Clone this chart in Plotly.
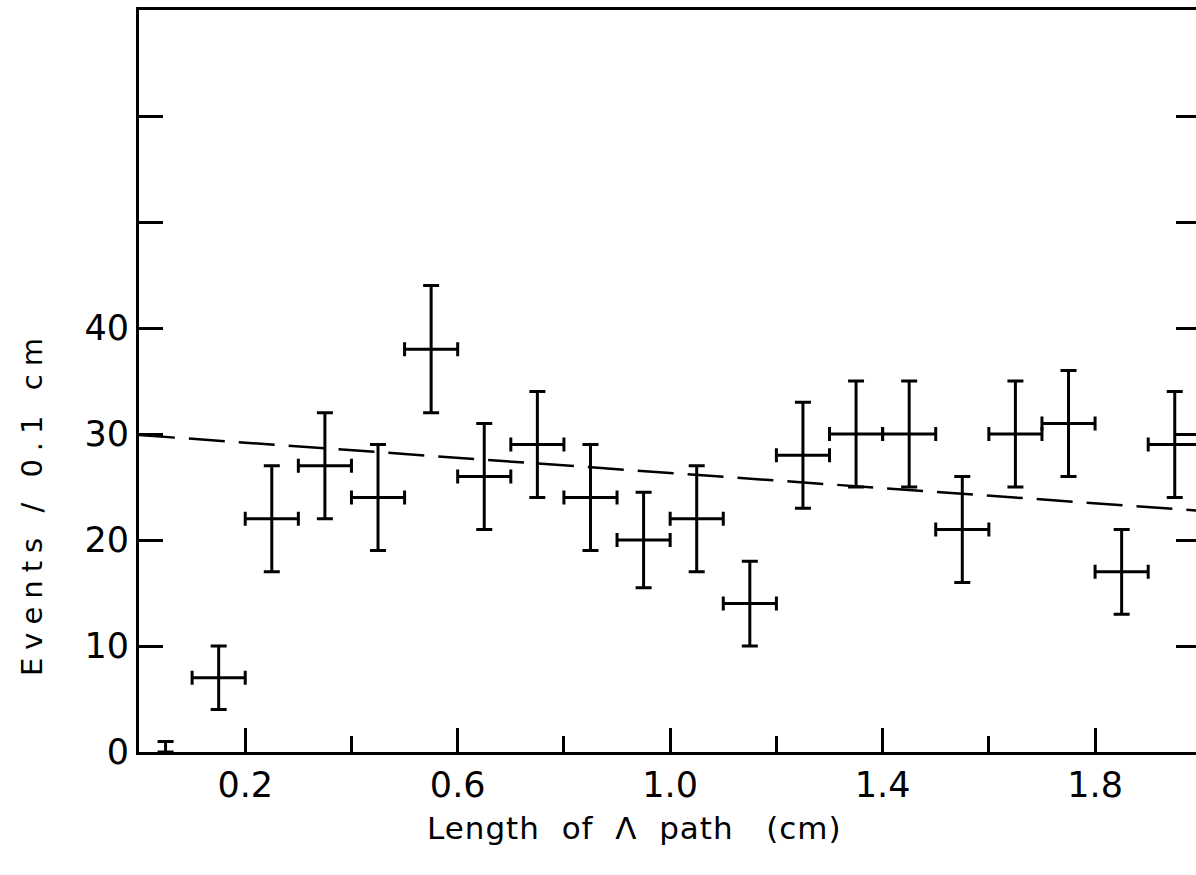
import plotly.graph_objects as go

# Bin centres (cm) and counts per 0.1 cm
bin_centers = [0.15, 0.25, 0.35, 0.45, 0.55, 0.65, 0.75, 0.85, 0.95,
               1.05, 1.15, 1.25, 1.35, 1.45, 1.55, 1.65, 1.75, 1.85, 1.95]
counts = [7, 22, 27, 24, 38, 26, 29, 24, 20,
          22, 14, 28, 30, 30, 21, 30, 31, 17, 29]
count_err = [3, 5, 5, 5, 6, 5, 5, 5, 4.5,
             5, 4, 5, 5, 5, 5, 5, 5, 4, 5]
half_bin = [0.05] * len(bin_centers)

# First bin (0.0-0.1 cm): zero events, upper error only
first_center = [0.05]
first_count = [0]
first_err_up = [1]

# Dashed fit line end points
fit_x = [0.0, 2.0]
fit_y = [29.9, 22.75]

x_major = [0.2, 0.6, 1.0, 1.4, 1.8]
x_major_text = ["0.2", "0.6", "1.0", "1.4", "1.8"]
x_minor = [0.4, 0.8, 1.2, 1.6]
y_ticks = [0, 10, 20, 30, 40, 50, 60]
y_tick_text = ["0", "10", "20", "30", "40", "", ""]

FONT = "DejaVu Sans"

fig = go.Figure()
fig.add_trace(go.Scatter(
    x=fit_x, y=fit_y, mode="lines",
    line=dict(color="black", width=2.5, dash="36px,14px"),
    showlegend=False, hoverinfo="skip",
))
fig.add_trace(go.Scatter(
    x=bin_centers, y=counts, mode="markers",
    marker=dict(size=2, color="black"),
    error_y=dict(type="data", array=count_err,
                 color="black", thickness=3, width=8),
    error_x=dict(type="data", array=half_bin, color="black", thickness=3, width=7),
    showlegend=False,
))
fig.add_trace(go.Scatter(
    x=first_center, y=first_count, mode="markers",
    marker=dict(size=2, color="black", opacity=0),
    error_y=dict(type="data", symmetric=False, array=first_err_up,
                 arrayminus=[0], color="black", thickness=3, width=8),
    showlegend=False,
))
# invisible trace for right-side ticks
fig.add_trace(go.Scatter(x=[None], y=[None], yaxis="y2", showlegend=False))

fig.update_layout(
    width=1196, height=875,
    margin=dict(l=139, r=0, t=10, b=123),
    paper_bgcolor="white", plot_bgcolor="white",
    font=dict(family=FONT, color="black", size=35),
    xaxis=dict(
        range=[0, 1.99], showgrid=False, zeroline=False,
        showline=True, linecolor="black", linewidth=3, mirror=True,
        ticks="inside", ticklen=24, tickwidth=3, tickcolor="black",
        tickvals=x_major, ticktext=x_major_text,
        tickfont=dict(family=FONT, size=35),
        ticklabelstandoff=0,
        minor=dict(tickvals=x_minor, ticks="inside", ticklen=16,
                   tickwidth=3, tickcolor="black", showgrid=False),
    ),
    yaxis=dict(
        range=[0, 70], showgrid=False, zeroline=False,
        showline=True, linecolor="black", linewidth=3, mirror=False,
        ticks="inside", ticklen=24, tickwidth=3, tickcolor="black",
        tickvals=y_ticks, ticktext=y_tick_text,
        tickfont=dict(family=FONT, size=35),
        ticklabelstandoff=0,
    ),
    yaxis2=dict(
        range=[0, 70], overlaying="y", side="right", showgrid=False,
        zeroline=False, showline=False,
        ticks="inside", ticklen=20, tickwidth=3, tickcolor="black",
        tickvals=[10, 20, 30, 40, 50, 60], showticklabels=False,
    ),
    annotations=[
        dict(text="Length\u00a0\u00a0of\u00a0\u00a0\u039b\u00a0 path\u00a0\u00a0\u00a0(cm)",
             xref="paper", yref="paper", x=0.469, y=-0.1024,
             xanchor="center", yanchor="middle", showarrow=False,
             font=dict(family=FONT, size=31)),
        dict(text="Events / 0.1 cm",
             xref="paper", yref="paper", x=-0.1012, y=0.3356,
             xanchor="center", yanchor="middle", showarrow=False,
             textangle=-90, font=dict(family=FONT, size=29)),
    ],
)

post = """
document.querySelectorAll('.annotation-text').forEach(function(t){
  if (t.textContent.indexOf('Events') === 0) { t.style.letterSpacing = '8px'; }
  else { t.style.letterSpacing = '1px'; }
});
"""

fig.write_html("out.html", post_script=post)
